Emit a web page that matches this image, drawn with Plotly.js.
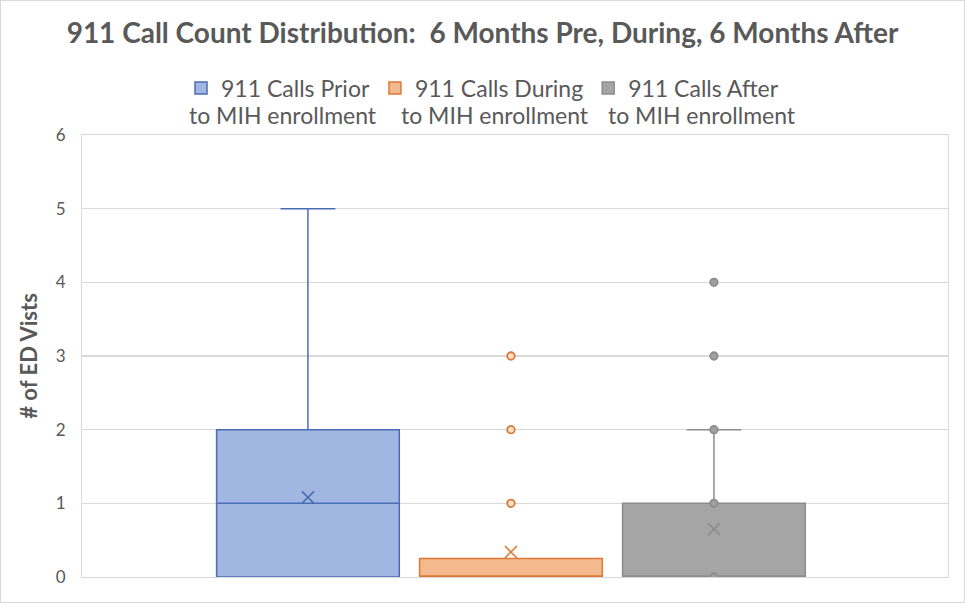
<!DOCTYPE html>
<html><head><meta charset="utf-8">
<script src="https://cdn.plot.ly/plotly-3.0.1.min.js"></script>
<style>
html,body{margin:0;padding:0;background:#fff}
#chart{position:absolute;left:0;top:0;width:965px;height:603px}
#frame{position:absolute;left:0;top:0;width:965px;height:603px;box-sizing:border-box;border:1px solid #d9d9d9;pointer-events:none}
</style>
</head><body><div id="chart"></div><div id="frame"></div><script>
// ---- data ----
const seriesNames = ['911 Calls Prior', '911 Calls During', '911 Calls After'];
const nameSecondLine = ['to MIH enrollment', 'to MIH enrollment', 'to MIH enrollment'];
const q1 = [0, 0, 0];
const medians = [1, 0, 0];
const q3 = [2, 0.25, 1];
const lowerFences = [0, 0, 0];
const upperFences = [5, 0.25, 2];
const means = [1.08, 0.34, 0.65];
const pointsPrior = [];
const pointsDuring = [1, 2, 3];
const pointsAfter = [0, 1, 2, 3, 4];
const yTicks = [0, 1, 2, 3, 4, 5, 6];

// ---- styles ----
const fills = ['#a1b6e0', '#f5b98e', '#a5a5a5'];
const lines = ['#4a6db5', '#dc7a35', '#8c8c8c'];
const pointSets = [pointsPrior, pointsDuring, pointsAfter];
const pointFills = ['#a1b6e0', '#fbe0cc', '#a0a0a0'];
const txt = '#595959';
const FONT = 'Lato, "Open Sans", sans-serif';

const traces = [];
seriesNames.forEach((nm, i) => {
  traces.push({
    type: 'box', name: nm, x: [i],
    q1: [q1[i]], median: [medians[i]], q3: [q3[i]],
    lowerfence: [lowerFences[i]], upperfence: [upperFences[i]],
    width: 0.9, whiskerwidth: 0.3,
    fillcolor: fills[i], line: {color: lines[i], width: 1.5},
    boxpoints: false, hoverinfo: 'skip'
  });
});
seriesNames.forEach((nm, i) => {
  traces.push({
    type: 'scatter', mode: 'markers', x: [i], y: [means[i]], showlegend: false,
    marker: {symbol: 'x-thin-open', size: 12, line: {color: lines[i], width: 1.6}, color: lines[i]},
    hoverinfo: 'skip'
  });
  if (pointSets[i].length) {
    traces.push({
      type: 'scatter', mode: 'markers', x: pointSets[i].map(() => i), y: pointSets[i], showlegend: false,
      marker: {symbol: 'circle', size: 7.5, color: pointFills[i], line: {color: lines[i], width: 1.8}},
      hoverinfo: 'skip'
    });
  }
});

const layout = {
  width: 965, height: 603,
  margin: {l: 82, r: 17, t: 135, b: 26},
  paper_bgcolor: '#fff', plot_bgcolor: '#fff',
  font: {family: FONT, color: txt},
  title: {
    text: '<b>911 Call Count Distribution:  6 Months Pre, During, 6 Months After</b>',
    font: {family: FONT, size: 28, color: txt},
    x: 0.5, xref: 'container', xanchor: 'center',
    y: 1 - 33 / 603, yref: 'container', yanchor: 'middle'
  },
  showlegend: true,
  legend: {
    orientation: 'h', x: 0.5, xref: 'container', xanchor: 'center',
    y: 1 - 88 / 603, yref: 'container', yanchor: 'middle',
    font: {family: FONT, size: 23, color: txt}, itemwidth: 30, traceorder: 'normal'
  },
  xaxis: {
    range: [-1.113, 3.153], showticklabels: false, showgrid: false, zeroline: false,
    showline: true, linecolor: '#d9d9d9', linewidth: 1, mirror: true, fixedrange: true
  },
  yaxis: {
    range: [0, 6], tickvals: yTicks, ticktext: yTicks.map(String),
    showgrid: true, gridcolor: '#d9d9d9', gridwidth: 1.3, zeroline: false,
    showline: true, linecolor: '#d9d9d9', mirror: true,
    ticks: 'outside', ticklen: 12, tickcolor: 'rgba(0,0,0,0)',
    tickfont: {family: FONT, size: 17, color: txt},
    title: {text: '<b># of ED Vists</b>', font: {family: FONT, size: 22, color: txt}, standoff: 12}
  },
  annotations: nameSecondLine.map((t, i) => ({
    text: t, xref: 'paper', yref: 'paper',
    x: ([283, 495, 702][i] - 82) / 866, y: (577 - 115) / 442, xanchor: 'center', yanchor: 'middle',
    showarrow: false, font: {family: FONT, size: 23, color: txt}
  }))
};

Plotly.newPlot('chart', traces, layout, {displayModeBar: false, staticPlot: true});
</script></body></html>
